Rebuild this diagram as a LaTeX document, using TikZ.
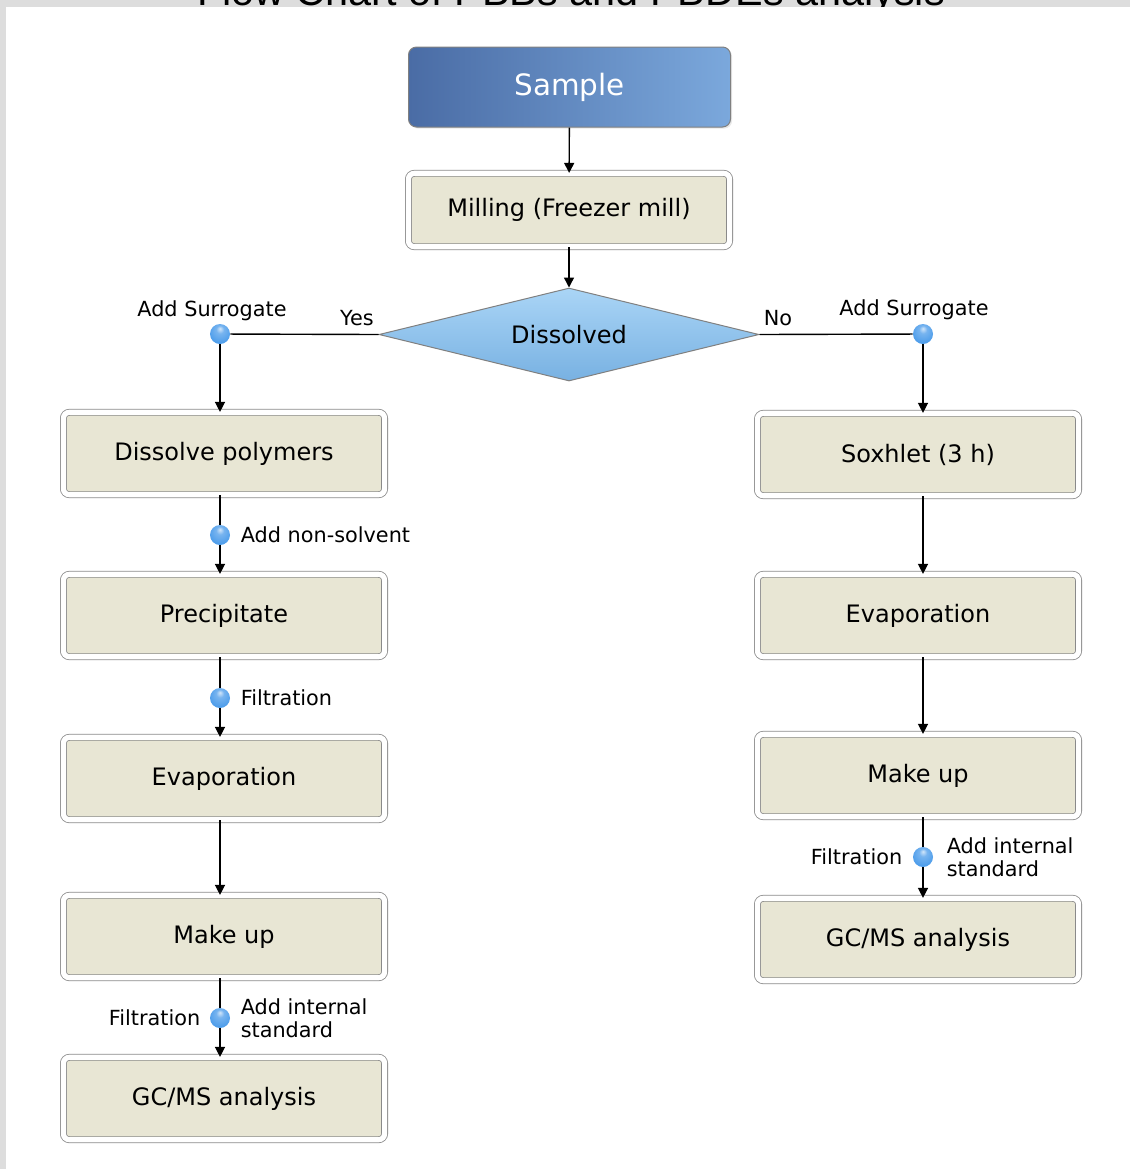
\documentclass[tikz,border=0pt]{standalone}
\usepackage{fontspec}
\setmainfont{DejaVu Sans}
\newfontfamily\titlefont{Liberation Sans}
\usepackage{xcolor}
\usepackage{tikz}
\usetikzlibrary{shapes.geometric,shadows}
\usetikzlibrary{arrows.meta,positioning}
\definecolor{framegray}{HTML}{DDDDDD}
\definecolor{stepfill}{HTML}{E8E6D4}
\definecolor{stepline}{HTML}{8A8A8A}
\definecolor{sampledark}{HTML}{4A6CA5}
\definecolor{samplelight}{HTML}{7BA8DC}
\definecolor{decitop}{HTML}{AAD5F6}
\definecolor{decibot}{HTML}{78B1E2}
\definecolor{dotblue}{HTML}{4A9BEA}
\pgfdeclareradialshading{dotshade}{\pgfpoint{0bp}{14bp}}{%
    color(0bp)=(white!75!dotblue); color(10bp)=(white!25!dotblue);
    color(30bp)=(dotblue); color(40bp)=(dotblue!85!black); color(50bp)=(dotblue!85!black)}
\newcommand{\labelsize}{\fontsize{10.4}{11.6}\selectfont}
\newcommand{\boxsize}{\fontsize{12}{14}\selectfont}

\begin{document}
\begin{tikzpicture}[x=0.5pt, y=-0.5pt,
    stepbox/.style={rectangle, rounded corners=3pt, draw=stepline, line width=0.4pt,
        double=white, double distance=2.6pt, fill=stepfill,
        minimum width=160.6pt, minimum height=41.2pt, inner sep=1pt, font=\boxsize,
        drop shadow={opacity=0.18, shadow xshift=0.8pt, shadow yshift=-0.8pt}},
    samplebox/.style={rectangle, rounded corners=4pt, draw=gray, line width=0.5pt,
        left color=sampledark, right color=samplelight, text=white,
        minimum width=161pt, minimum height=40pt, inner sep=1pt,
        font=\fontsize{14.7}{17}\selectfont,
        drop shadow={opacity=0.18, shadow xshift=0.8pt, shadow yshift=-0.8pt}},
    decision/.style={diamond, aspect=4.1, draw=gray, line width=0.5pt, top color=decitop,
        bottom color=decibot, minimum width=190pt, minimum height=46.5pt,
        inner sep=0pt, font=\boxsize},
    adddot/.style={circle, minimum size=10pt, inner sep=0pt, shading=dotshade},
    note/.style={font=\labelsize, inner sep=0pt, align=left},
    link/.style={draw=black, line width=0.7pt},
    flow/.style={link, -{Triangle[length=5pt,width=5pt]}}]

\useasboundingbox (0,0) rectangle (1130,1169);

% page frame with the cut title
\fill[framegray] (0,0) rectangle (1130,1169);
\begin{scope}
    \clip (0,0) rectangle (1130,7);
    \node[anchor=base, inner sep=0pt, text=black, font=\titlefont\fontsize{20.7}{24}\selectfont]
        (title) at (571,5) {Flow Chart of PBBs and PBDEs analysis};
\end{scope}
\fill[white] (6,7) rectangle (1130,1169);

% top
\node[samplebox] (sample) at (569.5,87) {Sample};
\node[stepbox, minimum height=36.7pt] (mill) at (569,210) {Milling (Freezer mill)};
\node[decision] (dissolved) at (569,334.5) {Dissolved};

\node[adddot] (surL) at (220,334) {};
\node[adddot] (surR) at (923,334) {};
\node[note] (surLtext) at (212,311) {Add Surrogate};
\node[note] (surRtext) at (914,310) {Add Surrogate};
\node[note] (yes) at (357,318) {Yes};
\node[note] (no) at (778,318) {No};

% left branch
\node[stepbox] (polym) at (224,453.5) {Dissolve polymers};
\node[stepbox] (precip) at (224,615.5) {Precipitate};
\node[stepbox] (evapL) at (224,778.5) {Evaporation};
\node[stepbox] (makeL) at (224,936.5) {Make up};
\node[stepbox] (gcmsL) at (224,1098.5) {GC/MS analysis};

\node[adddot] (nonsolv) at (220,535) {};
\node[adddot] (filtL) at (220,698) {};
\node[adddot] (istdL) at (220,1018) {};
\node[note, right=5pt of nonsolv] (nonsolvtext) {Add non-solvent};
\node[note, right=5pt of filtL] (filtLtext) {Filtration};
\node[note, left=4.5pt of istdL] (filtL2text) {Filtration};
\node[note, right=5pt of istdL] (istdLtext) {Add internal\\standard};

% right branch
\node[stepbox] (soxh) at (918,454.5) {Soxhlet (3 h)};
\node[stepbox] (evapR) at (918,615.5) {Evaporation};
\node[stepbox] (makeR) at (918,775.5) {Make up};
\node[stepbox] (gcmsR) at (918,939.5) {GC/MS analysis};

\node[adddot] (istdR) at (923,857) {};
\node[note, left=5pt of istdR] (filtRtext) {Filtration};
\node[note, right=6.5pt of istdR] (istdRtext) {Add internal\\standard};

% connectors
\draw[flow] (sample) -- (mill);
\draw[flow] (mill) -- (dissolved);
\draw[link] (dissolved.west) -- (surL);
\draw[link] (dissolved.east) -- (surR);
\draw[flow] (surL) -- (surL |- polym.north);
\draw[flow] (surR) -- (surR |- soxh.north);

\draw[flow] (surL |- polym.south) -- (nonsolv) -- (surL |- precip.north);
\draw[flow] (surL |- precip.south) -- (filtL) -- (surL |- evapL.north);
\draw[flow] (surL |- evapL.south) -- (surL |- makeL.north);
\draw[flow] (surL |- makeL.south) -- (istdL) -- (surL |- gcmsL.north);

\draw[flow] (surR |- soxh.south) -- (surR |- evapR.north);
\draw[flow] (surR |- evapR.south) -- (surR |- makeR.north);
\draw[flow] (surR |- makeR.south) -- (istdR) -- (surR |- gcmsR.north);
\end{tikzpicture}
\end{document}
